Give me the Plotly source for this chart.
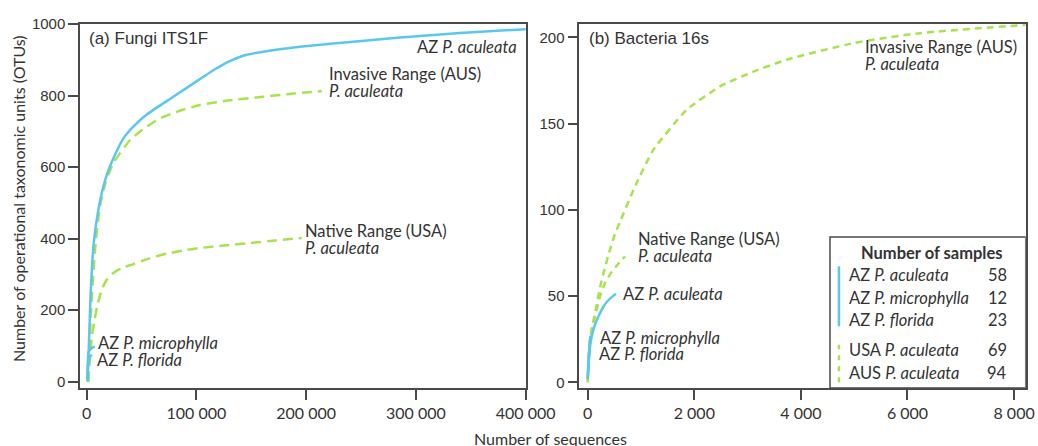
import plotly.graph_objects as go

# ---------------- data ----------------
# (a) Fungi ITS1F rarefaction curves: sequences vs OTUs
fungi_az_aculeata_x = [800, 1500, 2500, 3500, 4800, 6500, 9100, 13670, 18220, 25800, 33350,
                       42000, 55000, 78900, 100000, 118000, 130000, 145000, 165000, 194400,
                       240000, 285500, 340000, 400000]
fungi_az_aculeata_y = [0, 60, 150, 240, 320, 390, 452, 527, 578, 635, 680,
                       712, 748, 797, 840, 876, 896, 914, 925, 937,
                       950, 963, 975, 986]
fungi_az_microphylla_x = [600, 1000, 1500, 2500, 4000, 5500, 7500]
fungi_az_microphylla_y = [5, 50, 80, 88, 93, 96, 98]
fungi_az_florida_x = [600, 1000, 1600, 2500, 3500, 4500]
fungi_az_florida_y = [5, 35, 55, 66, 72, 76]
fungi_usa_x = [1500, 2200, 3000, 4500, 6650, 9500, 13700, 18000, 24300, 32000, 42500,
               57000, 72900, 88000, 103300, 125000, 148900, 172000, 196000]
fungi_usa_y = [0, 30, 71, 120, 164, 210, 257, 284, 304, 318, 329,
               345, 358, 367, 374, 381, 388, 395, 402]
fungi_aus_x = [1500, 2500, 4000, 6000, 8500, 12100, 17000, 24000, 39500, 50000, 66800,
               85000, 103300, 130000, 158000, 185000, 214200]
fungi_aus_y = [0, 100, 200, 300, 400, 490, 555, 610, 676, 703, 737,
               758, 774, 787, 796, 805, 813]

# (b) Bacteria 16s rarefaction curves
bact_az_aculeata_x = [5, 20, 40, 75, 120, 169, 230, 293, 400, 531]
bact_az_aculeata_y = [4, 12, 20, 26.5, 32, 36, 40, 43.8, 48, 51.4]
bact_az_microphylla_x = [0, 15, 30, 50]
bact_az_microphylla_y = [2, 12, 20, 27]
bact_az_florida_x = [0, 10, 25, 40]
bact_az_florida_y = [2, 9, 16, 21]
bact_usa_x = [0, 15, 43, 90, 137, 231, 330, 450, 580, 700]
bact_usa_y = [0, 12, 24, 33, 38, 50, 58, 64, 69, 73]
bact_aus_x = [0, 15, 43, 90, 137, 231, 293, 418, 512, 606, 900, 1231, 1857, 2482,
              3100, 3733, 4983, 6234, 8218]
bact_aus_y = [0, 12, 24, 33, 40, 55, 63, 77, 86, 93, 114.4, 134.7, 158, 171.5,
              180, 187, 196.6, 202.4, 207.2]

# sample counts per group
group_labels = ["AZ <i>P. aculeata</i>", "AZ <i>P. microphylla</i>", "AZ <i>P. florida</i>",
                "USA <i>P. aculeata</i>", "AUS <i>P. aculeata</i>"]
sample_counts = [58, 12, 23, 69, 94]

# tick labels
fungi_ticks = [0, 100000, 200000, 300000, 400000]
fungi_ticktext = ["0", "100 000", "200 000", "300 000", "400 000"]
bact_ticks = [0, 2000, 4000, 6000, 8000]
bact_ticktext = ["0", "2 000", "4 000", "6 000", "8 000"]

# ---------------- styling ----------------
W, H = 1038, 446
BLUE = "#5BC7EF"
GREEN = "#A7E34C"
TXT = "#333333"
AX = "#4a4a4a"
SANS = "Lato"
ARIAL = "Liberation Sans"
LBL = 16.5


def px_x(p):
    return p / W


def px_y(p):
    return 1 - p / H


fig = go.Figure()


def curve(x, y, color, dash, xa, ya):
    fig.add_trace(go.Scatter(
        x=x, y=y, mode="lines", xaxis=xa, yaxis=ya, showlegend=False,
        line=dict(color=color, width=2.5, dash=dash, shape="spline", smoothing=0.5),
        hoverinfo="skip"))


DASH_A = "10px,6px"
DASH_B = "7px,5px"

# panel (a)
curve(fungi_aus_x, fungi_aus_y, GREEN, DASH_A, "x", "y")
curve(fungi_usa_x, fungi_usa_y, GREEN, DASH_A, "x", "y")
curve(fungi_az_aculeata_x, fungi_az_aculeata_y, BLUE, "solid", "x", "y")
curve(fungi_az_microphylla_x, fungi_az_microphylla_y, BLUE, "solid", "x", "y")
curve(fungi_az_florida_x, fungi_az_florida_y, BLUE, "solid", "x", "y")

# panel (b)
curve(bact_aus_x, bact_aus_y, GREEN, DASH_B, "x2", "y2")
curve(bact_usa_x, bact_usa_y, GREEN, DASH_B, "x2", "y2")
curve(bact_az_aculeata_x, bact_az_aculeata_y, BLUE, "solid", "x2", "y2")
curve(bact_az_microphylla_x, bact_az_microphylla_y, BLUE, "solid", "x2", "y2")
curve(bact_az_florida_x, bact_az_florida_y, BLUE, "solid", "x2", "y2")

ydom = [px_y(388), px_y(24)]
axis_common = dict(showline=True, mirror=True, linecolor=AX, linewidth=1.5,
                   ticks="outside", ticklen=10, tickwidth=1.5, tickcolor=AX,
                   showgrid=False, zeroline=False, automargin=False, fixedrange=True)

fig.update_layout(
    width=W, height=H, autosize=False,
    margin=dict(l=0, r=0, t=0, b=0),
    paper_bgcolor="white", plot_bgcolor="white",
    showlegend=False,
    xaxis=dict(domain=[px_x(80), px_x(526)], range=[-6100, 400300], anchor="y",
               tickvals=fungi_ticks, ticktext=fungi_ticktext,
               tickfont=dict(family=SANS, size=16, color=TXT), **axis_common),
    yaxis=dict(domain=ydom, range=[-17.6, 1000.5], anchor="x",
               tickvals=[0, 200, 400, 600, 800, 1000],
               tickfont=dict(family=ARIAL, size=15, color=TXT), **axis_common),
    xaxis2=dict(domain=[px_x(579.3), px_x(1025.7)], range=[-158, 8218], anchor="y2",
                tickvals=bact_ticks, ticktext=bact_ticktext,
                tickfont=dict(family=SANS, size=16, color=TXT), **axis_common),
    yaxis2=dict(domain=ydom, range=[-3.3, 207.7], anchor="x2",
                tickvals=[0, 50, 100, 150, 200],
                tickfont=dict(family=ARIAL, size=15, color=TXT), **axis_common),
)

ann = []


def label(text, x, y, xref, yref, xanchor="left", size=LBL, family=SANS, **kw):
    ann.append(dict(text=text, x=x, y=y, xref=xref, yref=yref, xanchor=xanchor,
                    yanchor="middle", showarrow=False, borderpad=0,
                    font=dict(family=family, size=size, color=TXT), **kw))


# panel titles
label("(a) Fungi ITS1F", px_x(88), px_y(38), "paper", "paper", size=17, family=ARIAL)
label("(b) Bacteria 16s", px_x(588), px_y(38), "paper", "paper", size=17, family=ARIAL)

# curve labels, panel (a)
label("AZ <i>P. aculeata</i>", 393000, 937, "x", "y", xanchor="right")
label("Invasive Range (AUS)", fungi_aus_x[-1], 861, "x", "y", xshift=6)
label("<i>P. aculeata</i>", fungi_aus_x[-1], 812, "x", "y", xshift=6)
label("Native Range (USA)", fungi_usa_x[-1], 421, "x", "y", xshift=2)
label("<i>P. aculeata</i>", fungi_usa_x[-1], 374, "x", "y", xshift=2)
label("AZ <i>P. microphylla</i>", 9660, 108, "x", "y")
label("AZ <i>P. florida</i>", 8200, 61, "x", "y")

# curve labels, panel (b)
label("Invasive Range (AUS)", 5183, 194.2, "x2", "y2")
label("<i>P. aculeata</i>", 5183, 184.5, "x2", "y2")
label("Native Range (USA)", 930, 83.2, "x2", "y2")
label("<i>P. aculeata</i>", 930, 73.1, "x2", "y2")
label("AZ <i>P. aculeata</i>", 638, 51.2, "x2", "y2")
label("AZ <i>P. microphylla</i>", 218, 25.8, "x2", "y2")
label("AZ <i>P. florida</i>", 188, 16.6, "x2", "y2")

# axis titles
label("Number of operational taxonomic units (OTUs)", px_x(18), px_y(199), "paper", "paper",
      xanchor="center", size=16, textangle=-90)
label("Number of sequences", px_x(550), px_y(438), "paper", "paper", xanchor="center", size=16)

# sample-count table inside panel (b)
shapes = [dict(type="rect", xref="x2", yref="y2", x0=4546, x1=8218, y0=-3.3, y1=84.3,
               line=dict(color=AX, width=1.5), fillcolor="white", layer="above")]
label("<b>Number of samples</b>", 6459, 75.1, "x2", "y2", xanchor="center")
row_y = [62.4, 48.9, 36.0, 18.6, 5.4]
for name, n, yy in zip(group_labels, sample_counts, row_y):
    label(name, 4889, yy, "x2", "y2")
    label(str(n), 7891, yy, "x2", "y2", xanchor="right")
shapes.append(dict(type="line", xref="x2", yref="y2", x0=4714, x1=4714, y0=32.5, y1=67.3,
                   line=dict(color=BLUE, width=2.5), layer="above"))
shapes.append(dict(type="line", xref="x2", yref="y2", x0=4714, x1=4714, y0=0, y1=21.8,
                   line=dict(color=GREEN, width=2.5, dash="5px,6px"), layer="above"))

fig.update_layout(annotations=ann, shapes=shapes)

fig.write_html("out.html")
